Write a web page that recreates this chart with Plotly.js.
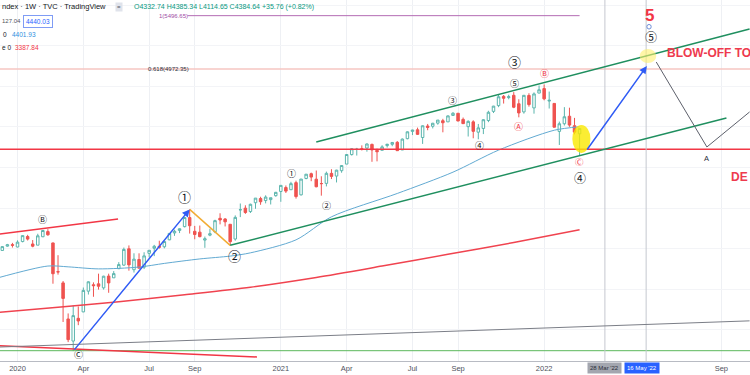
<!DOCTYPE html>
<html><head><meta charset="utf-8">
<script src="https://cdn.plot.ly/plotly-3.0.1.min.js"></script>
<style>html,body{margin:0;padding:0;background:#fff}#chart{width:750px;height:375px}</style>
</head><body><div id="chart"></div>
<script>
// ---------- weekly candles (TVC index, 1W) ----------
const weeks = ["2019-12-02","2019-12-09","2019-12-16","2019-12-23","2019-12-30",
"2020-01-06","2020-01-13","2020-01-20","2020-01-27","2020-02-03","2020-02-10","2020-02-17","2020-02-24","2020-03-02","2020-03-09","2020-03-16","2020-03-23","2020-03-30","2020-04-06","2020-04-13","2020-04-20","2020-04-27","2020-05-04","2020-05-11","2020-05-18","2020-05-25","2020-06-01","2020-06-08","2020-06-15","2020-06-22","2020-06-29","2020-07-06","2020-07-13","2020-07-20","2020-07-27","2020-08-03","2020-08-10","2020-08-17","2020-08-24","2020-08-31","2020-09-07","2020-09-14","2020-09-21","2020-09-28","2020-10-05","2020-10-12","2020-10-19","2020-10-26","2020-11-02","2020-11-09","2020-11-16","2020-11-23","2020-11-30","2020-12-07","2020-12-14","2020-12-21","2020-12-28",
"2021-01-04","2021-01-11","2021-01-18","2021-01-25","2021-02-01","2021-02-08","2021-02-15","2021-02-22","2021-03-01","2021-03-08","2021-03-15","2021-03-22","2021-03-29","2021-04-05","2021-04-12","2021-04-19","2021-04-26","2021-05-03","2021-05-10","2021-05-17","2021-05-24","2021-05-31","2021-06-07","2021-06-14","2021-06-21","2021-06-28","2021-07-05","2021-07-12","2021-07-19","2021-07-26","2021-08-02","2021-08-09","2021-08-16","2021-08-23","2021-08-30","2021-09-06","2021-09-13","2021-09-20","2021-09-27","2021-10-04","2021-10-11","2021-10-18","2021-10-25","2021-11-01","2021-11-08","2021-11-15","2021-11-22","2021-11-29","2021-12-06","2021-12-13","2021-12-20","2021-12-27",
"2022-01-03","2022-01-10","2022-01-17","2022-01-24","2022-01-31","2022-02-07","2022-02-14","2022-02-21"];
const opens = [3143.85,3141.86,3183.63,3226.05,3240.09,
3217.55,3271.13,3321.03,3247.16,3235.66,3318.28,3369.04,3257.61,2974.28,2863.89,2508.59,2290.71,2514.92,2578.28,2782.46,2845.62,2854.65,2815.01,2930.91,2913.86,3004.08,3038.78,3199.92,2993.76,3094.42,3018.59,3155.29,3205.08,3224.29,3219.84,3288.26,3356.04,3380.86,3418.09,3507.44,3371.88,3363.56,3285.57,3333.90,3367.27,3500.02,3493.66,3441.42,3296.20,3583.04,3600.16,3566.82,3653.78,3694.73,3675.27,3684.28,3723.03,
3764.61,3803.14,3781.88,3851.68,3731.17,3892.59,3939.61,3885.55,3842.51,3844.39,3942.96,3916.48,3969.31,4034.44,4127.99,4179.80,4185.14,4191.98,4228.29,4169.92,4170.16,4216.52,4229.34,4248.87,4173.40,4284.90,4356.46,4372.41,4296.40,4409.58,4406.86,4437.77,4461.65,4450.29,4513.76,4535.38,4474.81,4402.95,4450.29,4348.84,4385.44,4463.72,4553.69,4610.62,4701.50,4689.30,4712.00,4628.75,4548.37,4710.30,4587.90,4733.99,
4778.14,4655.34,4632.24,4356.32,4431.79,4505.75,4412.61,4332.74];
const highs = [3150.60,3176.28,3225.65,3247.93,3258.14,
3282.99,3329.88,3337.77,3285.91,3347.96,3385.09,3393.52,3259.81,3136.72,2882.59,2562.98,2641.39,2631.80,2818.57,2879.22,2869.09,2954.86,2934.32,2954.86,2980.29,3068.67,3211.72,3233.13,3155.53,3155.29,3165.81,3186.16,3238.28,3279.32,3272.18,3352.54,3387.89,3399.96,3509.23,3588.11,3425.55,3428.92,3320.31,3397.18,3486.25,3549.85,3502.42,3441.42,3529.05,3645.99,3628.51,3644.31,3699.20,3712.39,3726.70,3702.90,3760.20,
3826.69,3823.60,3859.75,3870.90,3887.48,3937.07,3950.43,3971.09,3914.50,3960.27,3983.87,3978.19,4020.63,4129.48,4191.31,4194.17,4218.78,4238.04,4236.39,4186.72,4220.34,4234.12,4249.74,4261.07,4286.12,4356.46,4372.12,4393.68,4415.18,4429.97,4440.82,4468.00,4480.26,4513.33,4545.85,4535.38,4492.99,4465.40,4465.86,4429.76,4475.82,4559.67,4608.08,4718.50,4714.92,4717.75,4743.83,4672.95,4713.57,4731.99,4740.74,4808.93,
4818.62,4748.83,4632.24,4453.23,4595.31,4590.03,4489.55,4385.34];
const lows = [3070.33,3125.00,3182.68,3220.51,3212.03,
3214.64,3263.49,3281.53,3214.68,3235.66,3315.19,3328.45,2855.84,2945.19,2478.86,2280.52,2191.86,2447.49,2575.15,2749.21,2727.10,2797.85,2797.85,2766.64,2913.86,2999.49,3032.68,2984.47,2965.66,3007.41,3000.10,3115.70,3127.66,3200.76,3204.13,3284.53,3327.24,3354.69,3410.44,3349.63,3293.59,3313.13,3209.45,3323.69,3354.08,3440.45,3419.93,3233.94,3279.74,3511.91,3543.84,3552.57,3594.39,3633.40,3647.49,3636.48,3713.49,
3662.71,3749.62,3781.88,3694.12,3725.62,3884.94,3865.67,3805.59,3723.34,3814.51,3886.75,3853.50,3949.13,4034.44,4118.38,4118.38,4168.59,4156.81,4056.88,4061.41,4170.16,4197.59,4210.38,4164.40,4173.40,4278.52,4320.06,4321.35,4233.13,4367.73,4385.83,4422.57,4347.53,4450.29,4513.19,4457.66,4428.74,4305.91,4288.52,4278.94,4329.92,4447.47,4537.36,4595.06,4630.86,4672.78,4585.43,4495.12,4531.32,4600.22,4531.10,4733.99,
4662.74,4581.75,4395.34,4222.62,4414.01,4401.41,4327.22,4114.65];
const closes = [3145.91,3168.80,3221.22,3240.02,3234.85,
3265.35,3329.62,3295.47,3225.52,3327.71,3380.16,3337.75,2954.22,2972.37,2711.02,2304.92,2541.47,2488.65,2789.82,2874.56,2836.74,2830.71,2929.80,2863.70,2955.45,3044.31,3193.93,3041.31,3097.74,3009.05,3130.01,3185.04,3224.73,3215.63,3271.12,3351.28,3372.85,3397.16,3508.01,3426.96,3340.97,3319.47,3298.46,3348.42,3477.13,3483.81,3465.39,3269.96,3509.44,3585.15,3557.54,3638.35,3699.12,3663.46,3709.41,3703.06,3756.07,
3824.68,3768.25,3841.47,3714.24,3886.83,3934.83,3906.71,3811.15,3841.94,3943.34,3913.10,3974.54,4019.87,4128.80,4185.47,4180.17,4181.17,4232.60,4173.85,4155.86,4204.11,4229.89,4247.44,4166.45,4280.70,4352.34,4369.55,4327.16,4411.79,4395.26,4436.52,4468.00,4441.67,4509.37,4535.43,4458.58,4432.99,4455.48,4357.04,4391.34,4471.37,4544.90,4605.38,4697.53,4682.85,4697.96,4594.62,4538.43,4712.02,4620.64,4725.79,4766.18,
4677.03,4662.85,4397.94,4431.85,4500.53,4418.64,4348.87,4384.64];

// ---------- moving averages ----------
const ma50Dates  = ["2019-12-09","2020-02-17","2020-03-16","2020-04-27","2020-06-22","2020-07-27","2020-09-14","2020-10-26","2020-11-23","2021-01-25","2021-03-15","2021-06-14","2021-08-30","2021-11-01","2022-01-17","2022-02-21"];
const ma50Values = [2912,3030,3022,3002,3020,3056,3100,3128,3160,3288,3515,3745,3955,4172,4368,4401.93];
const ma200Dates  = ["2019-12-09","2020-03-02","2020-05-25","2020-08-24","2020-11-23","2021-02-22","2021-05-24","2021-08-23","2021-11-22","2022-02-21"];
const ma200Values = [2572,2624,2679,2748,2822,2918,3030,3145,3262,3387.84];

// ---------- axis ticks ----------
const xTickVals = ["2020-01-06","2020-04-06","2020-07-06","2020-09-07","2021-01-04","2021-04-05","2021-07-05","2021-09-06","2022-01-03","2022-09-05"];
const xTickText = ["2020","Apr","Jul","Sep","2021","Apr","Jul","Sep","2022","Sep"];

// ---------- drawings (date, price) ----------
const fibOneLevel = 5496.65, fibOneDates = ["2020-08-28","2022-02-21"];
const fib618Level = 4972.35;
const supportLevel = 4180;
const covidLowLevel = 2196;
const redUpperDates = ["2019-12-01","2020-05-24"], redUpperPrices = [3335,3493];
const redLowDates = ["2019-12-01","2020-12-02"], redLowPrices = [2249,2134];
const grayLongDates = ["2019-12-01","2022-10-14"], grayLongPrices = [2229,2490];
const wave1Dates = ["2020-03-23","2020-08-31"], wave1Prices = [2191.86,3588.11];
const wave2Dates = ["2020-08-31","2020-10-26"], wave2Prices = [3588.11,3233.94];
const chanLowDates = ["2020-10-26","2022-09-12"], chanLowPrices = [3233.94,4488];
const chanUpDates = ["2021-02-22","2022-10-14"], chanUpPrices = [4252,5365];
const wave5Dates = ["2022-03-02","2022-05-25"], wave5Prices = [4163,5001];
const projDates = ["2022-06-07","2022-08-16","2022-10-14"], projPrices = [5040,4203,4548];
const markerA = {x0:"2022-02-11", x1:"2022-03-08", y0:4144, y1:4420};
const markerB = {x0:"2022-05-15", x1:"2022-06-07", y0:5030, y1:5168};
const vLineDates = ["2022-03-28","2022-05-24"];

const C = {
  up:'#5bb5ad', down:'#ef5350', ma50:'#62aad2', ma200:'#f0434f', red:'#f23645',
  green:'#1f8f5f', blue:'#2f5bf5', orange:'#f2ac33', gray:'#5d606b', text:'#131722'
};

const traces = [
  {type:'scatter', mode:'lines', x:ma200Dates, y:ma200Values, line:{color:C.ma200,width:1.5,shape:'spline',smoothing:0.8}, hoverinfo:'skip', showlegend:false},
  {type:'scatter', mode:'lines', x:ma50Dates, y:ma50Values, line:{color:C.ma50,width:1,shape:'spline',smoothing:0.8}, hoverinfo:'skip', showlegend:false},
  {type:'candlestick', x:weeks, open:opens, high:highs, low:lows, close:closes,
   increasing:{line:{color:C.up,width:1}, fillcolor:'#ffffff'},
   decreasing:{line:{color:C.down,width:1}, fillcolor:C.down},
   whiskerwidth:0, hoverinfo:'skip', showlegend:false}
];

function seg(xs, ys, color, width, dash){
  const out = [];
  for (let i=0;i<xs.length-1;i++) out.push({type:'line', xref:'x', yref:'y', x0:xs[i], x1:xs[i+1], y0:ys[i], y1:ys[i+1], line:{color:color,width:width,dash:dash||'solid'}});
  return out;
}
function hline(level, color, width){
  return {type:'line', xref:'paper', yref:'y', x0:0, x1:1, y0:level, y1:level, line:{color:color,width:width}};
}

const shapes = [].concat(
  [hline(fib618Level,'#f6c6c2',1.5)],
  seg(fibOneDates,[fibOneLevel,fibOneLevel],'#b36bb3',1),
  [hline(supportLevel,C.red,1.5)],
  [hline(covidLowLevel,'#5cb85c',1)],
  vLineDates.map(d=>({type:'line', xref:'x', yref:'paper', x0:d, x1:d, y0:0, y1:1, line:{color:'#c5c8cf',width:1}})),
  seg(redUpperDates, redUpperPrices, C.red, 1.5),
  seg(redLowDates, redLowPrices, C.red, 1.5),
  seg(grayLongDates, grayLongPrices, '#7b7e87', 1),
  seg(wave2Dates, wave2Prices, C.orange, 1.5),
  seg(chanLowDates, chanLowPrices, C.green, 1.5),
  seg(chanUpDates, chanUpPrices, C.green, 1.5),
  seg(projDates, projPrices, C.gray, 1),
  [Object.assign({type:'circle', xref:'x', yref:'y', fillcolor:'rgba(250,232,0,0.8)', line:{width:0}}, markerA)],
  [Object.assign({type:'circle', xref:'x', yref:'y', fillcolor:'rgba(255,240,110,0.6)', line:{width:0}}, markerB)],
  [{type:'circle', xref:'x', yref:'y', x0:'2022-05-25', x1:'2022-05-31', y0:5365, y1:5410, line:{color:'#6e8fd8',width:1}}]
);

const py = y => (361 - y)/361;
const CJK = '"Noto Sans CJK JP", "Noto Sans", sans-serif';
const SANS = '"Liberation Sans", Arial, sans-serif';
function lbl(x, y, text, size, color, extra){
  return Object.assign({xref:'x', yref:'y', x:x, y:y, text:text, showarrow:false, font:{family:CJK, size:size, color:color}, xanchor:'center', yanchor:'middle'}, extra||{});
}
function hdr(xp, yp, text, size, color, extra){
  return Object.assign({xref:'paper', yref:'paper', x:xp/750, y:py(yp), text:text, showarrow:false, xanchor:'left', yanchor:'middle', font:{family:SANS, size:size, color:color}}, extra||{});
}

const annotations = [
  // arrows
  {xref:'x', yref:'y', axref:'x', ayref:'y', x:wave1Dates[1], y:wave1Prices[1], ax:wave1Dates[0], ay:wave1Prices[0], showarrow:true, arrowhead:2, arrowsize:1, arrowwidth:1.5, arrowcolor:C.blue, text:''},
  {xref:'x', yref:'y', axref:'x', ayref:'y', x:wave5Dates[1], y:wave5Prices[1], ax:wave5Dates[0], ay:wave5Prices[0], showarrow:true, arrowhead:2, arrowsize:1, arrowwidth:1.5, arrowcolor:C.blue, text:''},
  // wave labels
  lbl('2020-08-24', 3720, '①', 13, C.text),
  lbl('2020-11-01', 3129, '②', 13, C.text),
  lbl('2021-01-19', 3937, '①', 9, C.text),
  lbl('2021-03-08', 3631, '②', 9, C.text),
  lbl('2021-08-30', 4659, '③', 9, C.text),
  lbl('2021-10-06', 4213, '④', 9, C.text),
  lbl('2021-11-23', 4830, '⑤', 9, C.text),
  lbl('2021-11-23', 5050, '③', 13, C.text),
  lbl('2022-01-03', 4922, 'Ⓑ', 9, C.red),
  lbl('2021-11-29', 4403, 'Ⓐ', 9, C.red),
  lbl('2022-02-21', 4060, 'Ⓒ', 8.5, C.red),
  lbl('2022-02-21', 3905, '④', 12, C.text),
  lbl('2020-02-09', 3493, 'Ⓑ', 9, C.text),
  lbl('2020-03-30', 2160, 'Ⓒ', 9, C.text),
  lbl('2022-05-31', 5296, '⑤', 12, C.text),
  lbl('2022-05-28', 5503, '<b>5</b>', 17, C.red, {font:{family:SANS,size:17,color:C.red}}),
  lbl('2022-06-19', 5126, '<b>BLOW-OFF TOP</b>', 12, C.red, {xanchor:'left', font:{family:SANS,size:12,color:'#ee3a4e'}}),
  {xref:'paper', yref:'y', x:1, y:3904, text:'<b>DE</b>', showarrow:false, xanchor:'right', yanchor:'middle', font:{family:SANS,size:12,color:'#ee3a4e'}},
  lbl('2022-08-16', 4085, 'A', 7.5, '#2a2e39', {font:{family:SANS,size:7.5,color:'#2a2e39'}}),
  lbl('2020-07-01', fib618Level, '0.618(4972.35)', 6, C.text, {xanchor:'left', font:{family:SANS,size:6,color:'#2a2e39'}}),
  lbl('2020-07-17', fibOneLevel, '1(5496.65)', 6, '#a04ca6', {xanchor:'left', font:{family:SANS,size:6,color:'#a04ca6'}}),
  // header / legend
  hdr(0, 6.7, 'ndex · 1W · TVC · TradingView', 7.5, C.text),
  hdr(115, 6.5, '=', 6, '#50535e', {bgcolor:'#e0e3eb', borderpad:1}),
  hdr(132, 6.7, 'O4332.74 H4385.34 L4114.65 C4384.64 +35.76 (+0.82%)', 7, '#089981'),
  hdr(0, 21, '127.04', 6, '#50535e'),
  hdr(23, 21, '4440.03', 6.5, '#2962ff', {bordercolor:'#7f9cf5', borderwidth:1, borderpad:2, bgcolor:'#ffffff'}),
  hdr(1, 35, '0', 6.5, C.text),
  hdr(10, 35, '4401.93', 6.5, '#2f8fe0'),
  hdr(0, 48, 'e 0', 6.5, C.text),
  hdr(13, 48, '3387.84', 6.5, '#f23645'),
  // axis date badges
  {xref:'x', yref:'paper', x:'2022-03-27', y:-7/361, text:"28 Mar '22", showarrow:false, xanchor:'center', yanchor:'middle', bgcolor:'#a3a6af', borderpad:2, font:{family:SANS,size:6,color:'#2a2e39'}},
  {xref:'x', yref:'paper', x:'2022-05-18', y:-7/361, text:"16 May '22", showarrow:false, xanchor:'center', yanchor:'middle', bgcolor:'#2962ff', borderpad:2, font:{family:SANS,size:6,color:'#ffffff'}}
];

const layout = {
  width:750, height:375,
  margin:{l:0, r:0, t:0, b:14},
  paper_bgcolor:'#ffffff', plot_bgcolor:'#ffffff',
  showlegend:false,
  xaxis:{type:'date', range:['2019-12-12 19:00','2022-10-14 14:00'], rangeslider:{visible:false},
    tickmode:'array', tickvals:xTickVals, ticktext:xTickText, ticks:'', showgrid:true, gridcolor:'#eef0f4',
    showline:true, linecolor:'#b8bbc3', linewidth:1, zeroline:false, fixedrange:true,
    tickfont:{family:SANS, size:7.5, color:'#50535e'}},
  yaxis:{range:[2094.4,5651], showticklabels:false, ticks:'', showgrid:true, gridcolor:'#f3f4f7',
    tick0:0, dtick:400, zeroline:false, showline:false, fixedrange:true},
  shapes:shapes,
  annotations:annotations,
  hovermode:false
};

Plotly.newPlot('chart', traces, layout, {displayModeBar:false, staticPlot:true});
</script>
</body></html>
